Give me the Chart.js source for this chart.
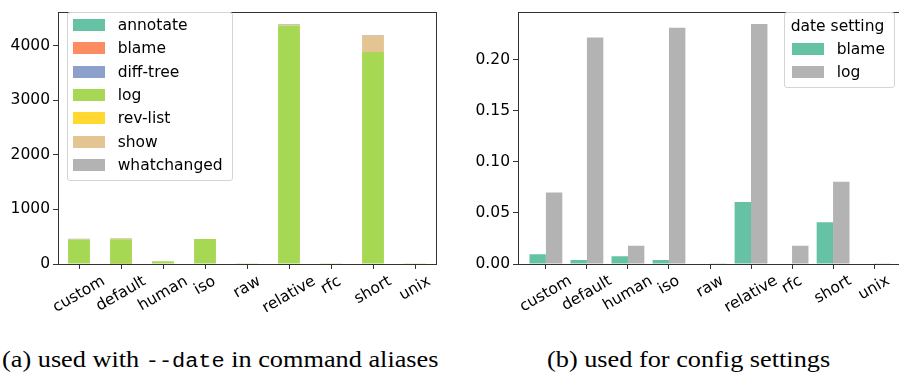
<!DOCTYPE html>
<html><head><meta charset="utf-8">
<script src="https://cdn.jsdelivr.net/npm/chart.js@4.4.0/dist/chart.umd.min.js"></script>
<style>
html,body{margin:0;padding:0;background:#fff;width:899px;height:375px;overflow:hidden;position:relative;}
#w1{position:absolute;left:0;top:0;width:450px;height:330px;}
#w2{position:absolute;left:460px;top:0;width:460px;height:330px;}
.legend{position:absolute;background:rgba(255,255,255,0.8);border:1px solid #d4d4d4;border-radius:3px;box-sizing:border-box;}
.lt{position:absolute;font-family:"DejaVu Sans";font-size:15.5px;color:#000;line-height:18px;height:18px;white-space:nowrap;}
.patch{position:absolute;width:32px;height:12px;}
.cap{position:absolute;font-family:"Liberation Serif","Times New Roman","DejaVu Serif",serif;font-size:24px;line-height:24px;white-space:nowrap;color:#000;transform:scaleX(1.095);transform-origin:0 0;}
.cap .tt{font-family:"Liberation Mono","DejaVu Sans Mono",monospace;font-size:20px;}
</style>
</head><body>
<div id="w1"><canvas id="c1" width="450" height="330"></canvas></div>
<div id="w2"><canvas id="c2" width="460" height="330"></canvas></div>
<div id="leg1"></div>
<div id="leg2"></div>
<div class="cap" style="left:2px;top:347px;">(a) used with <span class="tt">--date</span> in command aliases</div>
<div class="cap" style="left:547px;top:347px;">(b) used for config settings</div>
<script>
// ---- data: left chart (counts of --date format used with each command) ----
const dateFormats = ['custom','default','human','iso','raw','relative','rfc','short','unix'];
const commandNames = ['annotate','blame','diff-tree','log','rev-list','show','whatchanged'];
const annotateCounts    = [0, 0, 0, 0, 0, 0, 0, 0, 0];
const blameCounts       = [0, 3, 0, 8, 0, 0, 0, 0, 0];
const diffTreeCounts    = [0, 0, 0, 0, 0, 0, 0, 0, 0];
const logCounts         = [447, 452, 50, 450, 3, 4370, 15, 3885, 3];
const revListCounts     = [0, 0, 0, 0, 0, 0, 0, 0, 0];
const showCounts        = [0, 13, 0, 0, 0, 12, 0, 295, 0];
const whatchangedCounts = [14, 10, 0, 0, 0, 14, 0, 15, 0];
const commandColors = ['#66c2a5','#fc8d62','#8da0cb','#a6d854','#ffd92f','#e5c494','#b3b3b3'];
const leftYTicks = [0, 1000, 2000, 3000, 4000];

// ---- data: right chart (share used for config settings) ----
const settingNames = ['blame','log'];
const blameShare = [0.0095, 0.0038, 0.0076, 0.0038, 0.0005, 0.0607, 0.0005, 0.0408, 0.0005];
const logShare   = [0.0702, 0.2220, 0.0180, 0.2315, 0.0003, 0.2353, 0.0180, 0.0806, 0.0003];
const settingColors = ['#66c2a5','#b3b3b3'];
const rightYTicks = [0, 0.05, 0.10, 0.15, 0.20];

Chart.defaults.font.family = 'DejaVu Sans';
Chart.defaults.font.size = 15.5;
Chart.defaults.color = '#000';
Chart.defaults.animation = false;

const rot = Math.PI / 6;
const framePlugin = {
  id: 'frameAndLabels',
  afterDraw(chart, args, opts) {
    const ctx = chart.ctx, a = chart.chartArea;
    ctx.save();
    ctx.strokeStyle = '#333';
    ctx.lineWidth = 1;
    ctx.strokeRect(Math.round(a.left) + 0.5, Math.round(a.top) + 0.5, Math.round(a.right - a.left), Math.round(a.bottom - a.top));
    const xs = chart.scales.x;
    ctx.font = '15.5px "DejaVu Sans"';
    ctx.fillStyle = '#000';
    ctx.textAlign = 'center';
    ctx.textBaseline = 'middle';
    const h = 15.5 * 1.16;
    opts.labels.forEach((lab, i) => {
      const x = xs.getPixelForValue(i);
      const w = ctx.measureText(lab).width;
      const bh = w * Math.sin(rot) + h * Math.cos(rot);
      const cy = a.bottom + opts.gap + bh / 2;
      ctx.save();
      ctx.translate(x, cy);
      ctx.rotate(-rot);
      ctx.fillText(lab, 0, 0);
      ctx.restore();
    });
    ctx.restore();
  }
};

const gridOpts = {drawOnChartArea: false, tickLength: 5, tickColor: '#333', tickWidth: 1, offset: false};

// ---- left chart ----
const leftSeries = [annotateCounts, blameCounts, diffTreeCounts, logCounts, revListCounts, showCounts, whatchangedCounts];
new Chart(document.getElementById('c1'), {
  type: 'bar',
  data: {
    labels: dateFormats,
    datasets: commandNames.map((n, k) => ({
      label: n, data: leftSeries[k], backgroundColor: commandColors[k], borderWidth: 0,
      barPercentage: 0.52, categoryPercentage: 1
    }))
  },
  options: {
    responsive: false,
    layout: {padding: {top: 4, right: 14, left: 0, bottom: 0}},
    plugins: {legend: {display: false}, tooltip: {enabled: false},
      frameAndLabels: {labels: dateFormats, gap: 8.5}},
    scales: {
      x: {stacked: true, grid: gridOpts, border: {display: false},
          ticks: {display: false}, afterFit: s => { s.height = 66; }},
      y: {stacked: true, min: 0, max: 4610, grid: gridOpts, border: {display: false},
          afterBuildTicks: s => { s.ticks = leftYTicks.map(v => ({value: v})); },
          ticks: {padding: 3, callback: v => String(v)},
          afterFit: s => { s.width = 58; }}
    }
  },
  plugins: [framePlugin]
});

// ---- right chart ----
const rightSeries = [blameShare, logShare];
new Chart(document.getElementById('c2'), {
  type: 'bar',
  data: {
    datasets: settingNames.map((n, k) => ({
      label: n, data: rightSeries[k].map((v, i) => ({x: i, y: v})),
      backgroundColor: settingColors[k], borderWidth: 0,
      barPercentage: 1, categoryPercentage: 0.8
    }))
  },
  options: {
    responsive: false,
    layout: {padding: {top: 4, right: 18, left: 0, bottom: 0}},
    plugins: {legend: {display: false}, tooltip: {enabled: false},
      frameAndLabels: {labels: dateFormats, gap: 8}},
    scales: {
      x: {type: 'linear', min: -0.68, max: 8.68, offset: false, grid: gridOpts, border: {display: false},
          afterBuildTicks: s => { s.ticks = dateFormats.map((_, i) => ({value: i})); },
          ticks: {display: false}, afterFit: s => { s.height = 66; }},
      y: {min: 0, max: 0.2467, grid: gridOpts, border: {display: false},
          afterBuildTicks: s => { s.ticks = rightYTicks.map(v => ({value: v})); },
          ticks: {padding: 3, callback: v => v.toFixed(2)},
          afterFit: s => { s.width = 58; }}
    }
  },
  plugins: [framePlugin]
});

// ---- legends (HTML, matplotlib-like) ----
function buildLegend(id, box, title, names, colors) {
  const el = document.getElementById(id);
  el.className = 'legend';
  Object.assign(el.style, {left: box.left + 'px', top: box.top + 'px', width: box.w + 'px', height: box.h + 'px'});
  let row = 0;
  const add = (html) => { document.body.insertAdjacentHTML('beforeend', html); };
  if (title) {
    const cy = box.firstY;
    add(`<div class="lt" style="left:${box.titleX}px;top:${cy - 9}px">${title}</div>`);
    row = 1;
  }
  names.forEach((n, k) => {
    const cy = box.firstY + box.step * (row + k);
    add(`<div class="patch" style="left:${box.patchX}px;top:${cy - 6}px;background:${colors[k]}"></div>`);
    add(`<div class="lt" style="left:${box.textX}px;top:${cy - 9}px">${n}</div>`);
  });
}
buildLegend('leg1', {left: 66.5, top: 12, w: 166, h: 169, firstY: 25, step: 23.3, patchX: 73.3, textX: 117.7}, null, commandNames, commandColors);
buildLegend('leg2', {left: 784, top: 12, w: 110.5, h: 75.5, firstY: 25.5, step: 23.3, patchX: 791.7, textX: 836.7, titleX: 790.7}, 'date setting', settingNames, settingColors);
</script>
</body></html>
